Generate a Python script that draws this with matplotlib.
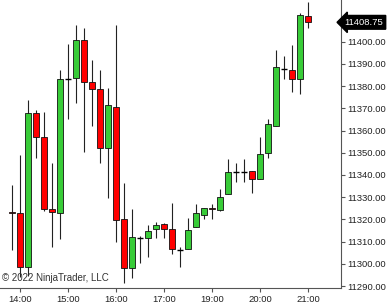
import matplotlib
matplotlib.use("Agg")
import matplotlib.pyplot as plt
import matplotlib.transforms as mtransforms

plt.rcParams['font.family'] = ['Liberation Sans', 'DejaVu Sans']

# 10 minute bars, 13:50 .. 21:00 (17:00-18:00 closed)
opens = [11323.5, 11322.75, 11298.75, 11368, 11357.25, 11324.5, 11323, 11383.25,
         11383.5, 11400.75, 11382, 11378.75, 11352.25, 11370.5, 11320.25, 11298,
         11311.5, 11311.5, 11315.5, 11318, 11315.75, 11306.25, 11306.5, 11316.5,
         11322, 11325, 11324.25, 11331.5, 11341.25, 11341.25, 11342, 11338,
         11350, 11362.25, 11387.75, 11387.25, 11383, 11411.5]
highs = [11335.5, 11349, 11373.75, 11369.25, 11368.25, 11345.5, 11387.25, 11399,
         11407.5, 11406.25, 11392, 11387.25, 11379.25, 11407.5, 11336.25, 11324.5,
         11312.5, 11317.25, 11319, 11318.5, 11327.25, 11307.5, 11320.5, 11327,
         11325.25, 11327, 11333.5, 11347, 11345.5, 11347, 11342, 11357,
         11365.25, 11396.5, 11393.5, 11398.5, 11412.75, 11418]
lows = [11306.25, 11294, 11294.5, 11347.5, 11324, 11307.75, 11311.25, 11365,
        11372.25, 11350.5, 11362, 11345.25, 11329.5, 11310, 11291.25, 11293.5,
        11300.25, 11303.25, 11311.5, 11311.75, 11304.25, 11298.75, 11306.5, 11316.5,
        11320.25, 11320, 11324, 11331.5, 11336.75, 11337, 11331.75, 11338,
        11347.5, 11362, 11383, 11377.5, 11376.25, 11406]
closes = [11322.75, 11298.75, 11368, 11357, 11324.75, 11323.25, 11383.25, 11383.25,
          11401, 11381.75, 11378.75, 11352.25, 11371.5, 11319.5, 11298, 11312.25,
          11311.5, 11314.75, 11317.25, 11315.75, 11306.5, 11306.25, 11315.25, 11322.75,
          11325, 11324.5, 11330, 11341.5, 11341.25, 11341.25, 11338, 11349.5,
          11363, 11388.75, 11387.75, 11383, 11412.25, 11408.75]

hour_pos = [1, 7, 13, 19, 25, 31, 37]
hour_labels = ['14:00', '15:00', '16:00', '17:00', '19:00', '20:00', '21:00']
price_ticks = [11290, 11300, 11310, 11320, 11330, 11340, 11350,
               11360, 11370, 11380, 11390, 11400]
last_price = closes[-1]

fig = plt.figure(figsize=(3.88, 3.06), dpi=100)
ax = fig.add_axes([0, 18 / 306, 340.5 / 388, 288 / 306])

up_col = '#38cc38'
dn_col = '#ff0000'
x = list(range(len(opens)))
ax.vlines(x, lows, highs, color='#222222', linewidth=0.8, zorder=1)
for i in x:
    o, c = opens[i], closes[i]
    if o == c:
        ax.hlines(o, i - 0.38, i + 0.38, color='black', linewidth=1.0, zorder=2)
    else:
        ax.bar(i, c - o, bottom=o, width=0.72, color=up_col if c > o else dn_col,
               edgecolor='#111111', linewidth=0.6, zorder=2)

ax.set_xlim(-1.5, 41.06)
ax.set_ylim(11289.1, 11418.8)

ax.yaxis.tick_right()
ax.set_yticks(price_ticks)
ax.set_yticklabels([f'{p:.2f}' for p in price_ticks])
ax.set_xticks(hour_pos)
ax.set_xticklabels(hour_labels)
ax.tick_params(axis='both', labelsize=6.8, colors='#555555', labelcolor='#222222',
               length=3, width=0.8, pad=2)

for s in ['top', 'left']:
    ax.spines[s].set_visible(False)
for s in ['right', 'bottom']:
    ax.spines[s].set_color('#555555')
    ax.spines[s].set_linewidth(0.8)

ax.text(0.006, 0.035, '\u00a9 2022 NinjaTrader, LLC', transform=ax.transAxes,
        fontsize=7, color='#333333', va='center', ha='left', zorder=5)

trans = mtransforms.blended_transform_factory(ax.transAxes, ax.transData)
ax.text(1.012, last_price, f'{last_price:.2f}', transform=trans, fontsize=6.8,
        color='white', va='center', ha='left', clip_on=False,
        bbox=dict(boxstyle='larrow,pad=0.25', fc='black', ec='black'))

fig.savefig('out.png', dpi=100)
